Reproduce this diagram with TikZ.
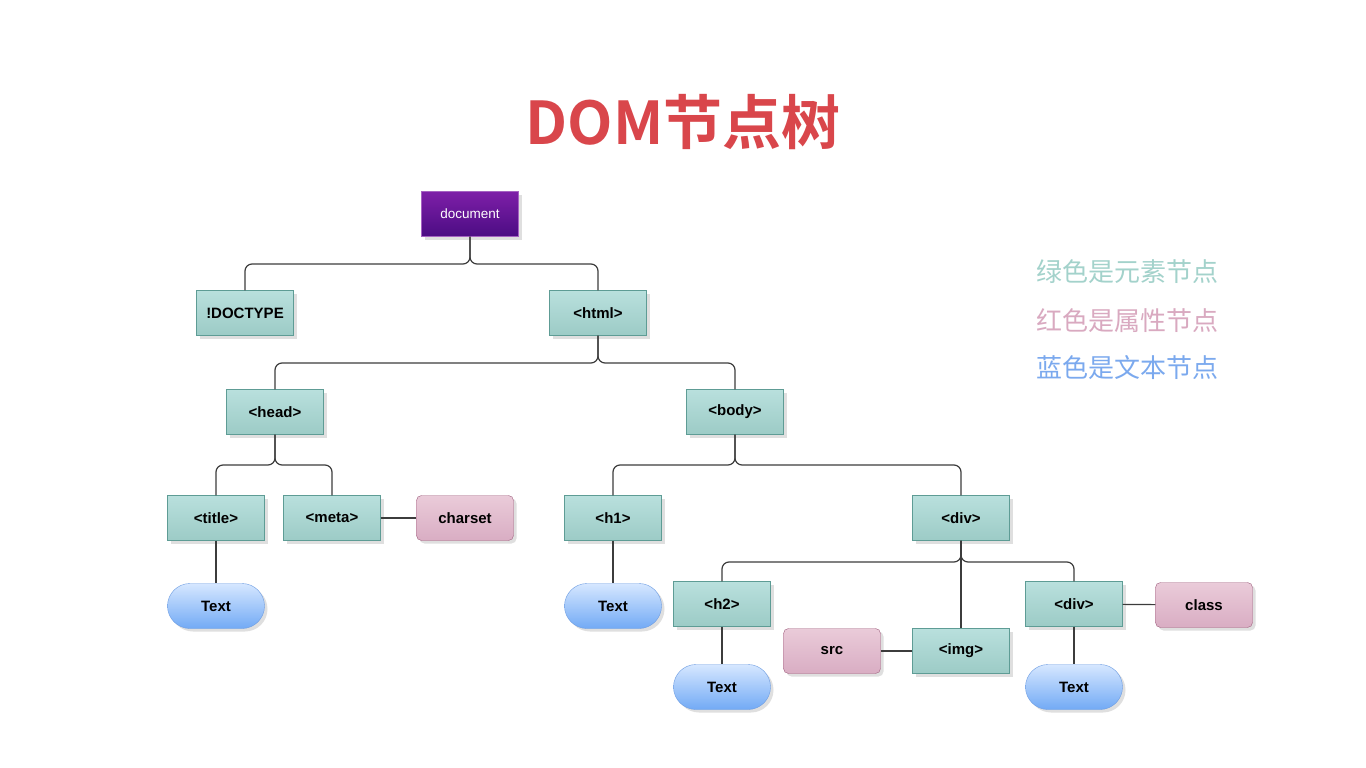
\documentclass[tikz,border=0pt]{standalone}
\usepackage{fontspec}
\setmainfont{Liberation Sans}
\newfontfamily\cjkfont{Noto Sans CJK SC}
\newfontfamily\cjkbold{Noto Sans CJK SC Bold}
\usetikzlibrary{shadows,shapes.misc}

\definecolor{titlered}{HTML}{D9464B}
\definecolor{elemtop}{HTML}{B9E0DD}
\definecolor{elembot}{HTML}{9CCBC6}
\definecolor{elemline}{HTML}{5E9C95}
\definecolor{attrtop}{HTML}{EACBD9}
\definecolor{attrbot}{HTML}{D9ADC3}
\definecolor{attrline}{HTML}{A0607F}
\definecolor{texttop}{HTML}{D6E7FF}
\definecolor{textbot}{HTML}{72AAF5}
\definecolor{textline}{HTML}{6C9CE2}
\definecolor{doctop}{HTML}{7E1FA8}
\definecolor{docbot}{HTML}{4B0C83}
\definecolor{keygreen}{HTML}{A3D2CB}
\definecolor{keypink}{HTML}{D9A9C0}
\definecolor{keyblue}{HTML}{7BA9EE}
\definecolor{wire}{HTML}{3C3C3C}

\begin{document}
\begin{tikzpicture}[
    x=1pt,y=-1pt,
    box/.style={minimum width=97pt,minimum height=45pt,inner sep=0pt,
        font=\fontsize{15}{17}\selectfont\bfseries,
        drop shadow={opacity=0.25,shadow xshift=3pt,shadow yshift=-3pt}},
    elem/.style={box,draw=elemline,top color=elemtop,bottom color=elembot},
    attr/.style={box,draw=attrline,top color=attrtop,bottom color=attrbot,rounded corners=5pt},
    txt/.style={box,rounded rectangle,draw=textline,top color=texttop,bottom color=textbot},
    root/.style={box,draw=doctop!70!white,top color=doctop,bottom color=docbot,
        text=white,font=\fontsize{13.5}{15}\selectfont},
    link/.style={draw=wire,line width=1.2pt,rounded corners=7pt},
    key/.style={font=\cjkfont\fontsize{26}{28}\selectfont}
]
\useasboundingbox[fill=white] (0,0) rectangle (1366,768);

% title
\node[text=titlered,font=\cjkbold\fontsize{59}{66}\selectfont] (title) at (683,122) {DOM节点树};

% legend
\node[key,text=keygreen] (kgreen) at (1127,272) {绿色是元素节点};
\node[key,text=keypink] (kpink) at (1127,321) {红色是属性节点};
\node[key,text=keyblue] (kblue) at (1127,368) {蓝色是文本节点};

% element nodes
\node[root] (document) at (470,214) {document};
\node[elem] (doctype) at (245,313) {!DOCTYPE};
\node[elem] (html) at (598,313) {<html>};
\node[elem] (head) at (275,412) {<head>};
\node[elem] (body) at (735,412) {<body>};
\node[elem] (titletag) at (216,518) {<title>};
\node[elem] (meta) at (332,518) {<meta>};
\node[elem] (hone) at (613,518) {<h1>};
\node[elem] (div) at (961,518) {<div>};
\node[elem] (htwo) at (722,604) {<h2>};
\node[elem] (img) at (961,651) {<img>};
\node[elem] (divtwo) at (1074,604) {<div>};

% attribute nodes
\node[attr] (charset) at (465,518) {charset};
\node[attr] (src) at (832,651) {src};
\node[attr] (class) at (1204,605) {class};

% text nodes
\node[txt] (tone) at (216,606) {Text};
\node[txt] (ttwo) at (613,606) {Text};
\node[txt] (tthree) at (722,687) {Text};
\node[txt] (tfour) at (1074,687) {Text};

% junctions
\coordinate (jdoc) at (470,264);
\coordinate (jhtml) at (598,363);
\coordinate (jhead) at (275,465);
\coordinate (jbody) at (735,465);
\coordinate (jdiv) at (961,562);

% tree links
\draw[link] (document) -- (jdoc) -| (doctype);
\draw[link] (document) -- (jdoc) -| (html);
\draw[link] (html) -- (jhtml) -| (head);
\draw[link] (html) -- (jhtml) -| (body);
\draw[link] (head) -- (jhead) -| (titletag);
\draw[link] (head) -- (jhead) -| (meta);
\draw[link] (body) -- (jbody) -| (hone);
\draw[link] (body) -- (jbody) -| (div);
\draw[link] (div) -- (jdiv) -| (htwo);
\draw[link] (div) -- (jdiv) -| (divtwo);
\draw[link] (div) -- (img);

% attribute and text links
\draw[link] (meta) -- (charset);
\draw[link] (img) -- (src);
\draw[link] (divtwo) -- (class);
\draw[link] (titletag) -- (tone);
\draw[link] (hone) -- (ttwo);
\draw[link] (htwo) -- (tthree);
\draw[link] (divtwo) -- (tfour);

\end{tikzpicture}
\end{document}
